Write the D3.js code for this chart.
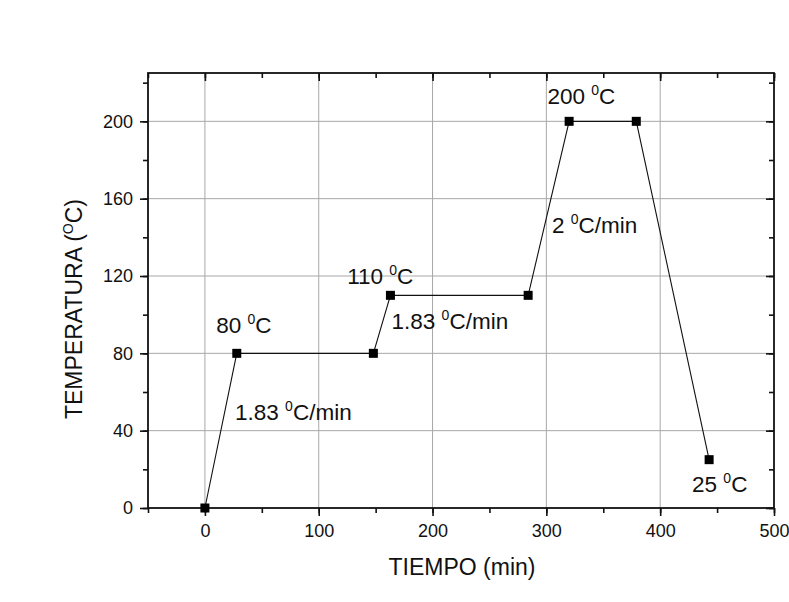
<!DOCTYPE html>
<html>
<head>
<meta charset="utf-8">
<script src="https://cdn.jsdelivr.net/npm/d3@7"></script>
<style>
  body { margin: 0; background: #fff; }
  text { font-family: Arial, "Liberation Sans", sans-serif; fill: #111; }
</style>
</head>
<body>
<div id="chart"></div>
<script>
// data
var tiempo = [0, 28, 148, 163, 284, 320, 379, 443];
var temperatura = [0, 80, 80, 110, 110, 200, 200, 25];
var xTicks = [0, 100, 200, 300, 400, 500];
var yTicks = [0, 40, 80, 120, 160, 200];
// annotations: position in data units, number part, text after the superscript
var notes = [
  { x: 10, y: 90.5, num: "80 ", rest: "C" },
  { x: 26.5, y: 45.5, num: "1.83 ", rest: "C/min" },
  { x: 125, y: 116, num: "110 ", rest: "C" },
  { x: 164, y: 92.5, num: "1.83 ", rest: "C/min" },
  { x: 301, y: 209, num: "200 ", rest: "C" },
  { x: 305, y: 142, num: "2 ", rest: "C/min" },
  { x: 428, y: 8.3, num: "25 ", rest: "C" }
];

var width = 789, height = 602;
var margin = { left: 148, right: 15, top: 73, bottom: 94 };

var svg = d3.select("#chart").append("svg")
  .attr("width", width)
  .attr("height", height);

var x = d3.scaleLinear().domain([-50, 500]).range([margin.left, width - margin.right]);
var y = d3.scaleLinear().domain([0, 225]).range([height - margin.bottom, margin.top]);

var x0 = x.range()[0], x1 = x.range()[1], y0 = y.range()[0], y1 = y.range()[1];

// grid
svg.append("g").selectAll("line")
  .data(xTicks.filter(function(d) { return d < 500; }))
  .enter().append("line")
  .attr("x1", function(d) { return x(d); }).attr("x2", function(d) { return x(d); })
  .attr("y1", y0).attr("y2", y1)
  .attr("stroke", "#a8a8a8").attr("stroke-width", 1);
svg.append("g").selectAll("line")
  .data(yTicks.filter(function(d) { return d > 0; }))
  .enter().append("line")
  .attr("x1", x0).attr("x2", x1)
  .attr("y1", function(d) { return y(d); }).attr("y2", function(d) { return y(d); })
  .attr("stroke", "#a8a8a8").attr("stroke-width", 1);

// axes (minor + major ticks)
var minorX = d3.range(-50, 501, 50), minorY = d3.range(0, 221, 20);

var gBottom = svg.append("g").attr("transform", "translate(0," + y0 + ")")
  .call(d3.axisBottom(x).tickValues(minorX).tickSize(5).tickFormat(""));
gBottom.append("g").call(d3.axisBottom(x).tickValues(xTicks).tickSize(8).tickPadding(8));

var gLeft = svg.append("g").attr("transform", "translate(" + x0 + ",0)")
  .call(d3.axisLeft(y).tickValues(minorY).tickSize(5).tickFormat(""));
gLeft.append("g").call(d3.axisLeft(y).tickValues(yTicks).tickSize(8).tickPadding(7));

var gTop = svg.append("g").attr("transform", "translate(0," + y1 + ")")
  .call(d3.axisBottom(x).tickValues(minorX).tickSize(5).tickFormat(""));
gTop.append("g").call(d3.axisBottom(x).tickValues(xTicks).tickSize(8).tickFormat(""));

var gRight = svg.append("g").attr("transform", "translate(" + x1 + ",0)")
  .call(d3.axisLeft(y).tickValues(minorY).tickSize(5).tickFormat(""));
gRight.append("g").call(d3.axisLeft(y).tickValues(yTicks).tickSize(8).tickFormat(""));

svg.selectAll(".domain").remove();
svg.selectAll(".tick line").attr("stroke", "#111").attr("stroke-width", 1.6);
svg.selectAll(".tick text").attr("font-size", 18).style("font-size", "18px").attr("fill", "#111");

svg.append("rect")
  .attr("x", x0).attr("y", y1)
  .attr("width", x1 - x0).attr("height", y0 - y1)
  .attr("fill", "none").attr("stroke", "#111").attr("stroke-width", 1.8);

// line + markers
var pts = tiempo.map(function(t, i) { return [t, temperatura[i]]; });
svg.append("path")
  .datum(pts)
  .attr("d", d3.line().x(function(d) { return x(d[0]); }).y(function(d) { return y(d[1]); }))
  .attr("fill", "none").attr("stroke", "#111").attr("stroke-width", 1.1);

svg.selectAll("rect.mark")
  .data(pts)
  .enter().append("rect")
  .attr("class", "mark")
  .attr("x", function(d) { return x(d[0]) - 4.5; })
  .attr("y", function(d) { return y(d[1]) - 4.5; })
  .attr("width", 9).attr("height", 9)
  .attr("fill", "#000");

// annotations
var lab = svg.selectAll("text.note")
  .data(notes)
  .enter().append("text")
  .attr("class", "note")
  .attr("x", function(d) { return x(d.x); })
  .attr("y", function(d) { return y(d.y); })
  .style("font-size", "22.5px");
lab.append("tspan").text(function(d) { return d.num; });
lab.append("tspan").attr("dy", -9).style("font-size", "14px").text("0");
lab.append("tspan").attr("dy", 9).text(function(d) { return d.rest; });

// axis titles
svg.append("text")
  .attr("x", 462).attr("y", 575)
  .attr("text-anchor", "middle")
  .style("font-size", "23px")
  .text("TIEMPO (min)");

var yt = svg.append("text")
  .attr("transform", "translate(82,309) rotate(-90)")
  .attr("text-anchor", "middle")
  .style("font-size", "23px");
yt.append("tspan").text("TEMPERATURA (");
yt.append("tspan").attr("dy", -9).style("font-size", "14px").text("O");
yt.append("tspan").attr("dy", 9).text("C)");
</script>
</body>
</html>
